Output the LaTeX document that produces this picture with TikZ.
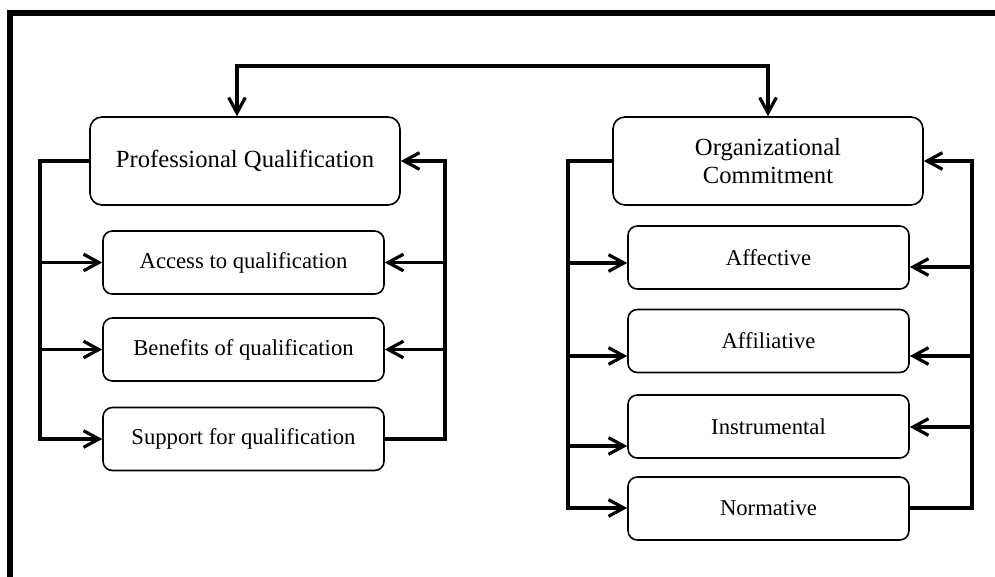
\documentclass[tikz,border=0pt]{standalone}
\usepackage{fontspec}
\setmainfont{Liberation Serif}
\usetikzlibrary{arrows.meta}
\begin{document}
\begin{tikzpicture}[x=0.75pt,y=-0.75pt,
  box/.style={draw, line width=1.2pt, rounded corners=7pt, minimum width=281*0.75pt, minimum height=63*0.75pt, inner sep=0pt, font=\fontsize{17}{20}\selectfont},
  bigbox/.style={draw, line width=1.2pt, rounded corners=9pt, minimum width=310*0.75pt, minimum height=88*0.75pt, inner sep=0pt, align=center, font=\fontsize{18.5}{21}\selectfont},
  conn/.style={line width=2.4pt},
  barb/.tip={Straight Barb[length=11.5pt,width=12.5pt]},
  tip/.style={-barb}
]
\useasboundingbox (0,0) rectangle (995,576);
\draw[line width=4.5pt] (10,620) -- (10,13) -- (1040,13);

% left group
\node[bigbox] (pq) at (245,161) {Professional Qualification};
\node[box] (acc) at (243.5,262.5) {Access to qualification};
\node[box] (ben) at (243.5,349.5) {Benefits of qualification};
\node[box] (sup) at (243.5,439) {Support for qualification};

% right group
\node[bigbox] (oc) at (768,161) {Organizational\\Commitment};
\node[box] (aff) at (768.5,257.5) {Affective};
\node[box] (afl) at (768.5,341) {Affiliative};
\node[box] (ins) at (768.5,426.5) {Instrumental};
\node[box] (nor) at (768.5,508.5) {Normative};

% top connector
\coordinate (t1) at (237,66);
\coordinate (t2) at (768,66);
\draw[conn,barb-barb] (pq.north -| t1) -- (t1) -- (t2) -- (oc.north);

% left group buses
\coordinate (lx1) at (40,0);
\coordinate (rx1) at (445,0);
\draw[conn,tip] (pq.west) -- (pq.west -| lx1) |- (sup.west);
\draw[conn,tip] (acc.west -| lx1) -- (acc.west);
\draw[conn,tip] (ben.west -| lx1) -- (ben.west);
\draw[conn,tip] (sup.east) -- (sup.east -| rx1) |- (pq.east);
\draw[conn,tip] (acc.east -| rx1) -- (acc.east);
\draw[conn,tip] (ben.east -| rx1) -- (ben.east);

% right group buses
\coordinate (la1) at (568,263);
\coordinate (la2) at (568,356);
\coordinate (la3) at (568,446);
\coordinate (la4) at (568,508);
\coordinate (ra1) at (972,267);
\coordinate (ra2) at (972,356);
\coordinate (ra3) at (972,427);
\coordinate (ra4) at (972,508);
\draw[conn,tip] (oc.west) -- (oc.west -| la4) -- (la4) -- (la4 -| nor.west);
\draw[conn,tip] (la1) -- (la1 -| aff.west);
\draw[conn,tip] (la2) -- (la2 -| afl.west);
\draw[conn,tip] (la3) -- (la3 -| ins.west);
\draw[conn,tip] (ra4 -| nor.east) -- (ra4) -- (oc.east -| ra4) -- (oc.east);
\draw[conn,tip] (ra1) -- (ra1 -| aff.east);
\draw[conn,tip] (ra2) -- (ra2 -| afl.east);
\draw[conn,tip] (ra3) -- (ra3 -| ins.east);
\end{tikzpicture}
\end{document}
